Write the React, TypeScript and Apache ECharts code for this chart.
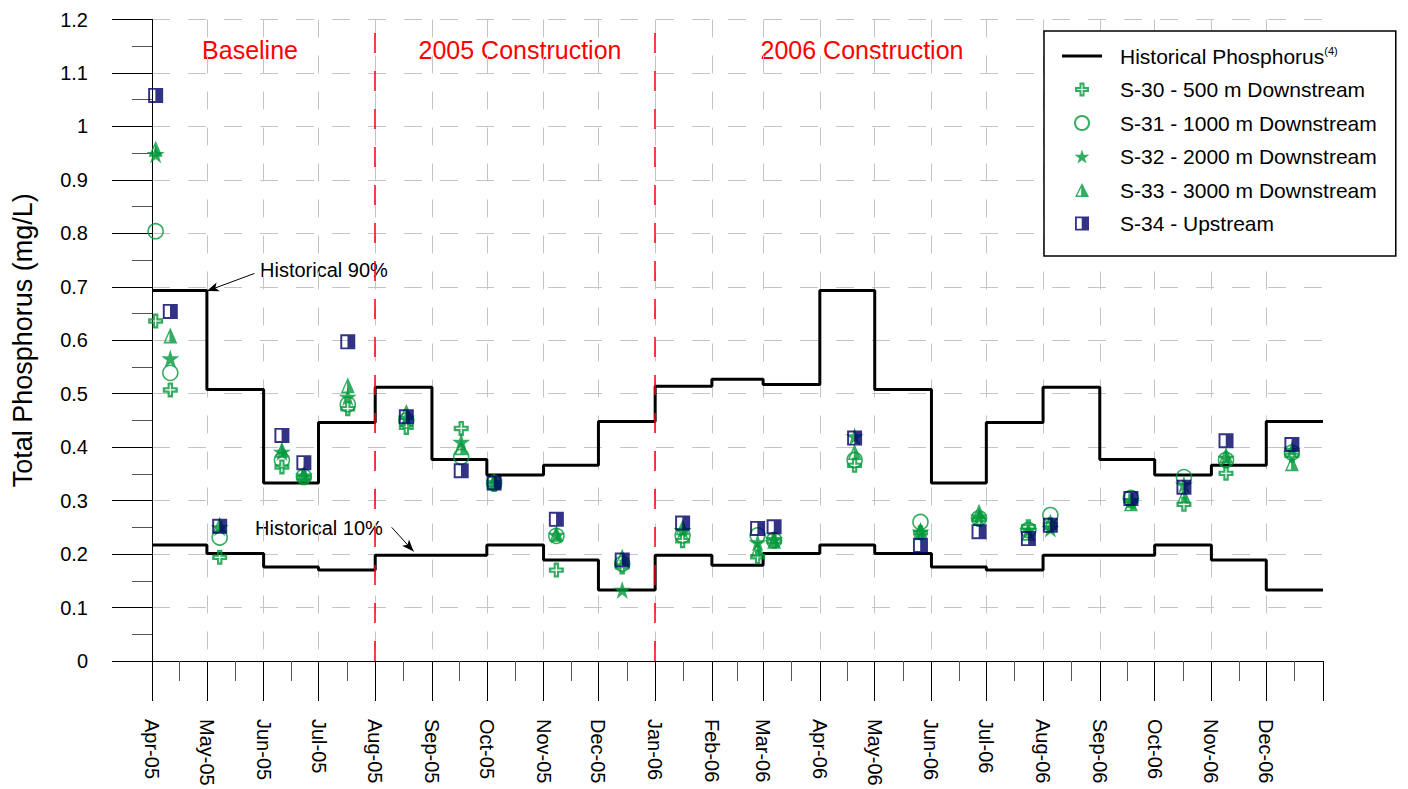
import React, { useEffect, useRef } from "react";
import * as echarts from "echarts";

// ---------- data ----------
const MONTH_STARTS = [
  "2005-04-01", "2005-05-01", "2005-06-01", "2005-07-01", "2005-08-01", "2005-09-01",
  "2005-10-01", "2005-11-01", "2005-12-01", "2006-01-01", "2006-02-01", "2006-03-01",
  "2006-04-01", "2006-05-01", "2006-06-01", "2006-07-01", "2006-08-01", "2006-09-01",
  "2006-10-01", "2006-11-01", "2006-12-01", "2007-01-01",
];
// Historical monthly percentiles (Apr-05 ... Dec-06)
const HIST_90 = [
  0.693, 0.508, 0.333, 0.446, 0.512, 0.377, 0.348, 0.366, 0.448,
  0.514, 0.527, 0.517, 0.693, 0.508, 0.333, 0.446, 0.512, 0.377, 0.348, 0.366, 0.448,
];
const HIST_10 = [
  0.217, 0.201, 0.176, 0.170, 0.198, 0.198, 0.217, 0.189, 0.133,
  0.198, 0.179, 0.201, 0.217, 0.201, 0.176, 0.170, 0.198, 0.198, 0.217, 0.189, 0.133,
];

const SAMPLE_DATES = [
  "2005-04-03", "2005-04-11", "2005-05-08", "2005-06-11", "2005-06-23", "2005-07-17",
  "2005-08-18", "2005-09-17", "2005-10-05", "2005-11-08", "2005-12-14", "2006-01-16",
  "2006-02-26", "2006-03-07", "2006-04-20", "2006-05-26", "2006-06-27", "2006-07-24",
  "2006-08-05", "2006-09-18", "2006-10-17", "2006-11-09", "2006-12-15",
];
const S30 = [0.636, 0.507, 0.194, 0.363, 0.343, 0.472, 0.437, 0.435, 0.330, 0.170, 0.176, 0.225,
  0.195, 0.224, 0.366, 0.240, 0.265, 0.251, 0.255, 0.300, 0.293, 0.351, 0.385];
const S31 = [0.804, 0.539, 0.231, 0.376, 0.345, 0.480, 0.450, 0.382, 0.333, 0.234, 0.182, 0.235,
  0.235, 0.226, 0.376, 0.260, 0.267, 0.245, 0.273, 0.305, 0.344, 0.376, 0.390];
const S32 = [0.948, 0.566, 0.250, 0.391, 0.347, 0.494, 0.455, 0.410, 0.335, 0.236, 0.133, 0.245,
  0.222, 0.228, 0.420, 0.242, 0.270, 0.245, 0.248, 0.300, 0.330, 0.380, 0.395];
const S33 = [0.958, 0.609, 0.255, 0.395, 0.350, 0.516, 0.466, 0.400, 0.336, 0.238, 0.195, 0.250,
  0.210, 0.225, 0.391, 0.245, 0.279, 0.240, 0.260, 0.295, 0.310, 0.385, 0.370];
const S34 = [1.058, 0.654, 0.252, 0.422, 0.371, 0.597, 0.457, 0.356, 0.333, 0.265, 0.189, 0.258,
  0.248, 0.251, 0.417, 0.216, 0.242, 0.229, 0.254, 0.304, 0.325, 0.412, 0.405];

const PERIOD_LINES = ["2005-08-01", "2006-01-01"];
const PERIOD_TEXTS = ["Baseline", "2005 Construction", "2006 Construction"];
const MONTH_NAMES = ["Jan", "Feb", "Mar", "Apr", "May", "Jun", "Jul", "Aug", "Sep", "Oct", "Nov", "Dec"];

const SERIES_NAMES = [
  "Historical Phosphorus",
  "S-30 - 500 m Downstream",
  "S-31 - 1000 m Downstream",
  "S-32 - 2000 m Downstream",
  "S-33 - 3000 m Downstream",
  "S-34 - Upstream",
];

// ---------- styling ----------
const GREEN = "#00993a";
const NAVY = "#000066";
const FONT = '"Liberation Sans", Arial, Helvetica, sans-serif';
const GRID_LINE = { color: "#c4c4c4", width: 1, type: [18, 18] as number[] };

const SYM_CROSS = "path://M32,0H68V32H100V68H68V100H32V68H0V32H32Z M46,16V46H16V54H46V84H54V54H84V46H54V16Z";
const SYM_STAR = "path://M50,0L61.2,34.6L97.6,34.5L68.1,55.9L79.4,90.5L50,69L20.6,90.5L31.9,55.9L2.4,34.5L38.8,34.6Z";
const SYM_HALF_TRI = "path://M50,0L100,100L0,100Z M44,34L16,90L44,90Z";
const SYM_HALF_SQ = "path://M0,0H100V100H0Z M13,13V87H48V13Z";
const SYM_LEGEND_LINE = "path://M0,0H100V7.5H0Z";

function ts(s: string): number {
  const [y, m, d] = s.split("-").map(Number);
  return new Date(y, m - 1, d).getTime();
}

function pairs(values: number[]) {
  return SAMPLE_DATES.map((d, i) => [ts(d), values[i]]);
}

function histData(values: number[]) {
  return MONTH_STARTS.map((d, i) => [ts(d), values[Math.min(i, values.length - 1)]]);
}

export default function App() {
  const ref = useRef<HTMLDivElement>(null);

  useEffect(() => {
    if (!ref.current) return;
    const chart = echarts.init(ref.current, undefined, { renderer: "svg" });

    const arrowLine = (a: [string, number], b: [string, number]) => [
      { coord: [ts(a[0]), a[1]], symbol: "none", lineStyle: { color: "#000", width: 1, type: "solid" } },
      { coord: [ts(b[0]), b[1]], symbol: "arrow", symbolSize: [7, 12] },
    ];

    const option: any = {
      animation: false,
      backgroundColor: "#fff",
      textStyle: { fontFamily: FONT },
      grid: { left: 152, right: 85, top: 19.5, bottom: 128, containLabel: false, outerBoundsMode: "none" },
      xAxis: {
        type: "time",
        min: ts(MONTH_STARTS[0]),
        max: ts(MONTH_STARTS[MONTH_STARTS.length - 1]),
        minInterval: 28 * 86400000,
        maxInterval: 31 * 86400000,
        axisLine: { show: true, lineStyle: { color: "#000", width: 1 } },
        axisTick: { show: true, length: 40, lineStyle: { color: "#000", width: 1 } },
        minorTick: { show: true, splitNumber: 2, length: 20, lineStyle: { color: "#555", width: 1 } },
        splitLine: { show: true, showMinLine: false, showMaxLine: false, lineStyle: GRID_LINE },
        axisLabel: {
          rotate: -90,
          margin: 58,
          fontSize: 20,
          color: "#000",
          fontFamily: FONT,
          showMaxLabel: false,
          hideOverlap: false,
          formatter: (v: number) => {
            const d = new Date(v);
            return MONTH_NAMES[d.getMonth()] + "-" + String(d.getFullYear() % 100).padStart(2, "0");
          },
        },
      },
      yAxis: {
        type: "value",
        min: 0,
        max: 1.2,
        interval: 0.1,
        name: "Total Phosphorus (mg/L)",
        nameLocation: "middle",
        nameGap: 116,
        nameTextStyle: { fontSize: 27, color: "#000", fontFamily: FONT },
        axisLine: { show: true, lineStyle: { color: "#000", width: 1 } },
        axisTick: { show: true, length: 40, lineStyle: { color: "#000", width: 1 } },
        minorTick: { show: true, splitNumber: 2, length: 20, lineStyle: { color: "#555", width: 1 } },
        splitLine: { show: true, lineStyle: GRID_LINE },
        axisLabel: {
          margin: 64,
          fontSize: 20,
          color: "#000",
          fontFamily: FONT,
          formatter: (v: number) => String(Math.round(v * 10) / 10),
        },
      },
      legend: {
        orient: "vertical",
        left: 1044,
        top: 31,
        backgroundColor: "#fff",
        borderColor: "#000",
        borderWidth: 1.5,
        padding: [14, 19, 22, 18],
        itemGap: 12.5,
        itemWidth: 40,
        itemHeight: 14,
        selectedMode: false,
        data: SERIES_NAMES.map((n, i) => (i === 0 ? { name: n, icon: SYM_LEGEND_LINE } : { name: n })),
        formatter: (name: string) =>
          name === SERIES_NAMES[0] ? "{t|" + name + "}{s|(4)}" : "{t|" + name + "}",
        textStyle: {
          color: "#000",
          fontFamily: FONT,
          fontSize: 21,
          rich: {
            t: { fontSize: 21, lineHeight: 22, padding: [0, 0, 0, 13], color: "#000", fontFamily: FONT },
            s: { fontSize: 11, lineHeight: 22, verticalAlign: "top", padding: [0, 0, 8, 0], color: "#000", fontFamily: FONT },
          },
        },
      },
      graphic: [
        { type: "text", x: 250, y: 50, style: { text: PERIOD_TEXTS[0], fill: "#ff0000", fontSize: 25, fontFamily: FONT, align: "center", verticalAlign: "middle" } },
        { type: "text", x: 520, y: 50, style: { text: PERIOD_TEXTS[1], fill: "#ff0000", fontSize: 25, fontFamily: FONT, align: "center", verticalAlign: "middle" } },
        { type: "text", x: 862, y: 50, style: { text: PERIOD_TEXTS[2], fill: "#ff0000", fontSize: 25, fontFamily: FONT, align: "center", verticalAlign: "middle" } },
        { type: "text", x: 260, y: 270, style: { text: "Historical 90%", fill: "#000", fontSize: 20, fontFamily: FONT, align: "left", verticalAlign: "middle" } },
        { type: "text", x: 255, y: 528, style: { text: "Historical 10%", fill: "#000", fontSize: 20, fontFamily: FONT, align: "left", verticalAlign: "middle" } },
      ],
      series: [
        {
          type: "line",
          name: SERIES_NAMES[0],
          step: "end",
          symbol: "none",
          data: histData(HIST_90),
          lineStyle: { color: "#000", width: 3 },
          itemStyle: { color: "#000" },
          z: 3,
          markLine: {
            silent: true,
            symbol: ["none", "none"],
            label: { show: false },
            emphasis: { disabled: true },
            data: [
              ...PERIOD_LINES.map((d) => ({
                xAxis: ts(d),
                lineStyle: { color: "#ff0000", width: 1.5, type: [20, 18] },
              })),
              arrowLine(["2005-05-27", 0.725], ["2005-05-01", 0.692]),
              arrowLine(["2005-08-10", 0.25], ["2005-08-22", 0.205]),
            ],
          },
        },
        {
          type: "line",
          name: SERIES_NAMES[0],
          step: "end",
          symbol: "none",
          data: histData(HIST_10),
          lineStyle: { color: "#000", width: 3 },
          itemStyle: { color: "#000" },
          z: 3,
        },
        {
          type: "scatter",
          name: SERIES_NAMES[1],
          symbol: SYM_CROSS,
          symbolSize: 15,
          itemStyle: { color: GREEN },
          data: pairs(S30),
          z: 4,
        },
        {
          type: "scatter",
          name: SERIES_NAMES[2],
          symbol: "circle",
          symbolSize: 15,
          itemStyle: { color: "rgba(255,255,255,0)", borderColor: GREEN, borderWidth: 1.6 },
          data: pairs(S31),
          z: 4,
        },
        {
          type: "scatter",
          name: SERIES_NAMES[3],
          symbol: SYM_STAR,
          symbolSize: 18,
          itemStyle: { color: GREEN },
          data: pairs(S32),
          z: 4,
        },
        {
          type: "scatter",
          name: SERIES_NAMES[4],
          symbol: SYM_HALF_TRI,
          symbolSize: [14, 16],
          itemStyle: { color: GREEN },
          data: pairs(S33),
          z: 4,
        },
        {
          type: "scatter",
          name: SERIES_NAMES[5],
          symbol: SYM_HALF_SQ,
          symbolSize: 15,
          itemStyle: { color: NAVY },
          data: pairs(S34),
          z: 4,
        },
      ],
    };

    chart.setOption(option);
    return () => chart.dispose();
  }, []);

  return (
    <div
      ref={ref}
      style={{ position: "absolute", left: 0, top: 0, width: 1408, height: 789 }}
    />
  );
}
